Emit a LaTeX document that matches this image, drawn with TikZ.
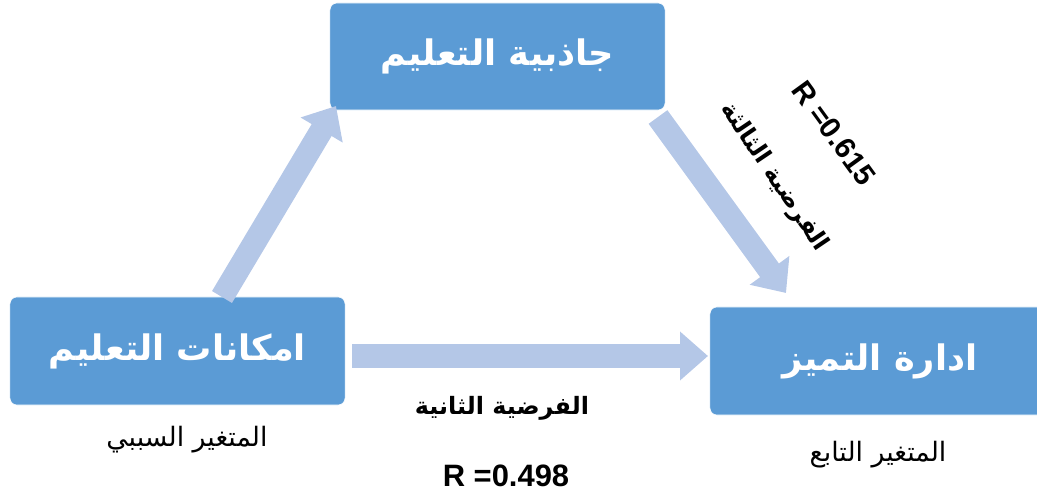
\documentclass[tikz,border=0pt]{standalone}
\usepackage{fontspec}
\setmainfont{Liberation Sans}
\newfontfamily\arabicfont[Script=Arabic]{DejaVu Sans}
\TeXXeTstate=1
\usetikzlibrary{arrows.meta}
\definecolor{boxblue}{HTML}{5B9BD5}
\definecolor{arrowblue}{HTML}{B4C7E7}

\tikzset{
	varbox/.style={rounded corners=5pt, fill=boxblue, draw=white, text=white, inner sep=0pt,
		font=\arabicfont\bfseries\fontsize{25}{28}\selectfont},
	flow/.style={draw=arrowblue, line width=0.58cm, -{Triangle[length=0.7cm,width=1.18cm]}},
	hyp/.style={font=\arabicfont\bfseries\fontsize{17}{20}\selectfont, inner sep=1pt},
	rval/.style={font=\bfseries\fontsize{22}{26}\selectfont, inner sep=1pt},
	role/.style={font=\arabicfont\fontsize{19}{22}\selectfont}
}

\begin{document}
\begin{tikzpicture}[x=0.025cm, y=-0.025cm]
	\useasboundingbox (0,0) rectangle (1037,497);
	% the three variables
	\node[varbox, minimum width=8.375cm, minimum height=2.675cm] (jadh) at (497.5,56.5) {\beginR جاذبية التعليم\endR};
	\node[varbox, minimum width=8.375cm, minimum height=2.7cm] (imk) at (177.5,351) {\beginR امكانات التعليم\endR};
	\node[varbox, minimum width=8.5cm, minimum height=2.7cm] (idara) at (880,361) {\beginR ادارة التميز\endR};
	% arrow ends
	\coordinate (a1) at (222,297);
	\coordinate (a2) at (336,106);
	\coordinate (b1) at (658,117);
	\coordinate (b2) at (786,293);
	\coordinate (c1) at (352,356);
	\coordinate (c2) at (708,356);
	\foreach \s/\e in {a1/a2, b1/b2, c1/c2}
	\draw[flow] (\s) -- (\e);
	% labels
	\node[role] (cause) at (187,440) {\beginR المتغير السببي\endR};
	\node[role] (effect) at (878,455) {\beginR المتغير التابع\endR};
	\node[hyp] (h2) at (502,408) {\beginR الفرضية الثانية\endR};
	\node[rval] (r2) at (506,476) {R =0.498};
	\node[hyp, rotate=-56] (h3) at (774,177) {\beginR الفرضية الثالثة\endR};
	\node[rval, rotate=-54, font=\bfseries\fontsize{21}{24}\selectfont] (r3) at (834,133) {R =0.615};
\end{tikzpicture}
\end{document}
